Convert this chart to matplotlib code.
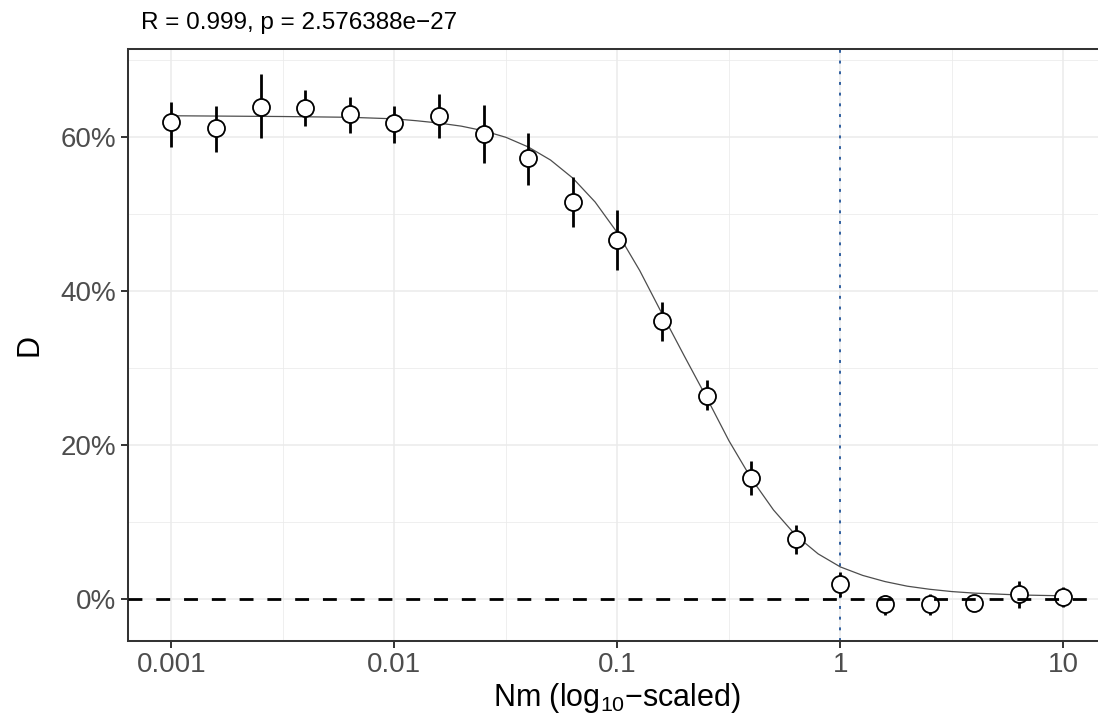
import matplotlib
matplotlib.use("Agg")
import matplotlib.pyplot as plt
import numpy as np

plt.rcParams['font.family'] = ['Liberation Sans', 'DejaVu Sans']
plt.rcParams['mathtext.default'] = 'regular'

# measured points (Nm on a log grid, D in %)
nm = [0.001, 0.00158, 0.00251, 0.00398, 0.00631, 0.01, 0.0158, 0.0251, 0.0398,
      0.0631, 0.1, 0.158, 0.251, 0.398, 0.631, 1.0, 1.58, 2.51, 3.98, 6.31, 10.0]
d_mean = [62.0, 61.2, 64.0, 63.8, 63.0, 61.8, 62.8, 60.4, 57.3, 51.6, 46.7,
          36.1, 26.4, 15.8, 7.8, 2.0, -0.65, -0.6, -0.45, 0.7, 0.35]
d_low = [58.8, 58.1, 59.9, 61.5, 60.6, 59.3, 59.9, 56.6, 53.8, 48.3, 42.8,
         33.5, 24.6, 13.5, 5.9, 0.3, -2.0, -2.0, -0.8, -1.1, -1.0]
d_high = [64.6, 64.1, 68.2, 66.1, 65.3, 64.1, 65.6, 64.2, 60.6, 54.9, 50.5,
          38.6, 28.5, 18.0, 9.6, 3.6, 0.55, 0.65, -0.1, 2.4, 1.6]

# fitted curve (log10 Nm, D in %)
fit_log = [-3.0, -2.5, -2.2, -2.0, -1.9, -1.8, -1.7, -1.6, -1.5, -1.4, -1.3,
           -1.2, -1.1, -1.0, -0.9, -0.8, -0.7, -0.6, -0.5, -0.4, -0.3, -0.2,
           -0.1, 0.0, 0.1, 0.2, 0.3, 0.4, 0.5, 0.6, 0.8, 1.0]
fit_d = [62.8, 62.7, 62.6, 62.4, 62.15, 61.85, 61.45, 60.85, 60.0, 58.75, 57.05,
         54.7, 51.6, 47.6, 42.7, 37.1, 31.6, 26.2, 20.6, 15.7, 11.6, 8.3,
         5.9, 4.2, 3.1, 2.3, 1.7, 1.3, 1.0, 0.8, 0.56, 0.45]

x_ticks = [0.001, 0.01, 0.1, 1, 10]
x_labels = ['0.001', '0.01', '0.1', '1', '10']
x_minor = [10**-2.5, 10**-1.5, 10**-0.5, 10**0.5]
y_ticks = [0, 20, 40, 60]
y_labels = ['0%', '20%', '40%', '60%']
y_minor = [10, 30, 50, 70]

W, H = 1098, 725
fig = plt.figure(figsize=(W / 100, H / 100), dpi=100)
left, right, top, bottom = 127.7, 127.7 + 979.4, 49.0, 640.7
ax = fig.add_axes([left / W, 1 - bottom / H, (right - left) / W, (bottom - top) / H])

ax.set_xscale('log')
ax.set_xlim(10**-3.196, 10**1.196)
ax.set_ylim(-5.38, 71.47)

# grid
ax.set_xticks(x_ticks)
ax.set_xticklabels(x_labels)
ax.set_xticks(x_minor, minor=True)
ax.set_xticklabels([], minor=True)
ax.set_yticks(y_ticks)
ax.set_yticklabels(y_labels)
ax.set_yticks(y_minor, minor=True)
ax.grid(True, which='major', color='#EBEBEB', linewidth=1.1, zorder=0)
ax.grid(True, which='minor', color='#EBEBEB', linewidth=0.55, zorder=0)
ax.set_axisbelow(True)
ax.tick_params(which='minor', length=0)
ax.tick_params(which='major', length=5, width=1.4, color='#333333',
               labelsize=20, labelcolor='#4D4D4D', pad=3)

for s in ax.spines.values():
    s.set_color('#333333')
    s.set_linewidth(1.45)

ax.axvline(1, color='#2F5F9F', linewidth=1.4, linestyle=(0, (1.5, 4)), zorder=1)

ax.plot(10 ** np.array(fit_log), fit_d, color='#4D4D4D', linewidth=0.9, zorder=2)

mean = np.array(d_mean)
err = [mean - np.array(d_low), np.array(d_high) - mean]
ax.errorbar(nm, d_mean, yerr=err, fmt='none', ecolor='black', elinewidth=2.0,
            capsize=0, zorder=3)
ax.scatter(nm, d_mean, s=150, facecolor='white', edgecolor='black',
           linewidth=1.3, zorder=4)

ax.axhline(0, color='black', linewidth=2.0, dashes=(5, 5), zorder=5)

ax.set_xlabel('Nm (log$_{10}$\u2212scaled)', fontsize=22, labelpad=2)
ax.set_ylabel('D', fontsize=22, labelpad=12)

fig.text(141 / W, 1 - 29.3 / H, 'R = 0.999, p = 2.576388e\u221227',
         fontsize=17.5, ha='left', va='baseline', color='black')

fig.savefig('out.png', dpi=100)
